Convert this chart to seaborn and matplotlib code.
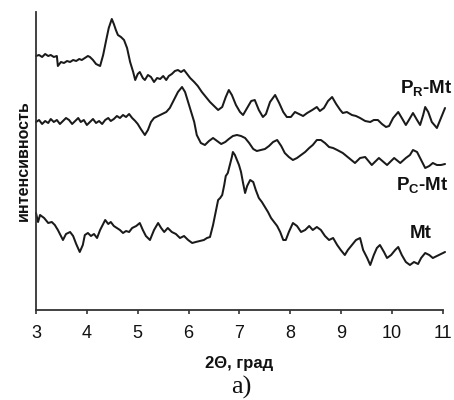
import matplotlib
matplotlib.use("Agg")
import matplotlib.pyplot as plt
import seaborn as sns
import pandas as pd

# --- data: 2-theta (deg) and intensity (arbitrary units, offset curves) ---
pr_x = [3.00, 3.06, 3.12, 3.18, 3.24, 3.29, 3.35, 3.41, 3.43, 3.49, 3.55, 3.61, 3.67, 3.73, 3.79, 3.85,
        3.90, 3.96, 4.02, 4.06, 4.12, 4.18, 4.26, 4.32, 4.38, 4.43, 4.49, 4.53, 4.57, 4.61, 4.67, 4.73,
        4.79, 4.85, 4.91, 4.95, 5.00, 5.04, 5.10, 5.14, 5.20, 5.26, 5.32, 5.38, 5.44, 5.50, 5.56, 5.61,
        5.67, 5.73, 5.79, 5.85, 5.91, 5.97, 6.03, 6.11, 6.18, 6.26, 6.34, 6.42, 6.50, 6.58, 6.66, 6.73,
        6.79, 6.85, 6.93, 7.01, 7.07, 7.15, 7.23, 7.30, 7.38, 7.46, 7.52, 7.60, 7.70, 7.78, 7.86, 7.93,
        8.01, 8.09, 8.17, 8.25, 8.33, 8.43, 8.52, 8.58, 8.66, 8.74, 8.82, 8.90, 8.98, 9.03, 9.11, 9.21,
        9.29, 9.37, 9.47, 9.57, 9.64, 9.72, 9.80, 9.88, 9.94, 10.02, 10.12, 10.19, 10.27, 10.33, 10.41,
        10.49, 10.55, 10.61, 10.65, 10.71, 10.78, 10.88, 10.96, 11.04]
pr_y = [254, 255, 253, 256, 254, 255, 253, 254, 244, 248, 247, 249, 248, 250, 249, 251,
        250, 252, 254, 253, 250, 246, 244, 255, 270, 282, 291, 286, 280, 275, 273, 270,
        262, 248, 238, 230, 236, 238, 232, 230, 235, 233, 228, 232, 231, 234, 230, 234,
        236, 239, 240, 238, 240, 236, 232, 228, 224, 218, 213, 208, 204, 200, 203, 213,
        220, 215, 205, 198, 195, 202, 209, 210, 200, 193, 196, 208, 215, 207, 198, 193,
        193, 198, 196, 194, 197, 200, 203, 199, 202, 209, 213, 206, 200, 197, 198, 195,
        194, 192, 189, 188, 190, 190, 186, 183, 184, 192, 198, 192, 185, 190, 197,
        190, 185, 195, 203, 198, 188, 182, 192, 202]

pc_x = [3.00, 3.06, 3.12, 3.18, 3.24, 3.29, 3.35, 3.41, 3.47, 3.53, 3.59, 3.65, 3.71, 3.77, 3.83, 3.88,
        3.94, 4.00, 4.06, 4.12, 4.18, 4.24, 4.30, 4.36, 4.42, 4.47, 4.53, 4.59, 4.65, 4.71, 4.77, 4.83,
        4.89, 4.95, 5.00, 5.06, 5.14, 5.20, 5.26, 5.32, 5.40, 5.48, 5.56, 5.63, 5.71, 5.79, 5.87, 5.93,
        5.99, 6.05, 6.11, 6.16, 6.24, 6.32, 6.40, 6.48, 6.56, 6.64, 6.72, 6.79, 6.87, 6.95, 7.03, 7.11,
        7.19, 7.27, 7.34, 7.42, 7.50, 7.58, 7.66, 7.74, 7.82, 7.89, 7.97, 8.05, 8.13, 8.21, 8.29, 8.37,
        8.44, 8.52, 8.60, 8.68, 8.76, 8.84, 8.92, 9.03, 9.15, 9.27, 9.37, 9.47, 9.60, 9.74, 9.90, 10.04,
        10.16, 10.27, 10.35, 10.41, 10.49, 10.57, 10.65, 10.73, 10.80, 10.88, 10.96, 11.04]
pc_y = [188, 190, 186, 189, 187, 191, 188, 190, 186, 189, 192, 190, 186, 189, 192, 188,
        190, 185, 188, 191, 187, 189, 186, 190, 192, 189, 191, 194, 192, 195, 193, 196,
        192, 189, 186, 181, 175, 180, 188, 192, 194, 196, 198, 202, 210, 218, 223, 218,
        208, 198, 188, 175, 167, 165, 169, 172, 169, 166, 168, 171, 174, 175, 174, 172,
        167, 161, 159, 160, 161, 164, 168, 170, 164, 157, 153, 150, 152, 155, 158, 162,
        165, 170, 170, 167, 163, 162, 160, 157, 152, 147, 152, 153, 145, 152, 145, 152,
        147, 152, 155, 160, 158, 150, 142, 144, 147, 145, 145, 146]

mt_x = [3.00, 3.04, 3.08, 3.16, 3.24, 3.31, 3.37, 3.43, 3.49, 3.53, 3.59, 3.67, 3.73, 3.79, 3.86, 3.92,
        3.96, 4.02, 4.08, 4.14, 4.20, 4.26, 4.32, 4.36, 4.42, 4.47, 4.53, 4.59, 4.65, 4.71, 4.77, 4.83,
        4.89, 4.97, 5.04, 5.10, 5.16, 5.24, 5.32, 5.40, 5.46, 5.52, 5.59, 5.67, 5.75, 5.83, 5.91, 5.99,
        6.07, 6.14, 6.22, 6.30, 6.36, 6.42, 6.48, 6.54, 6.58, 6.62, 6.66, 6.70, 6.73, 6.77, 6.81, 6.85,
        6.87, 6.91, 6.95, 6.99, 7.03, 7.07, 7.11, 7.15, 7.21, 7.27, 7.32, 7.38, 7.44, 7.50, 7.56, 7.62,
        7.68, 7.74, 7.80, 7.86, 7.91, 7.97, 8.05, 8.13, 8.21, 8.29, 8.37, 8.44, 8.52, 8.60, 8.68, 8.76,
        8.84, 8.92, 8.99, 9.07, 9.13, 9.21, 9.29, 9.37, 9.43, 9.51, 9.57, 9.64, 9.70, 9.76, 9.84, 9.90,
        9.98, 10.06, 10.12, 10.19, 10.27, 10.35, 10.43, 10.51, 10.57, 10.65, 10.73, 10.80, 10.88, 10.96,
        11.04]
mt_y = [97, 88, 95, 92, 87, 88, 85, 80, 74, 70, 76, 78, 74, 66, 58, 65,
        75, 77, 74, 76, 72, 80, 86, 90, 86, 88, 84, 82, 80, 77, 79, 78,
        82, 84, 87, 80, 74, 70, 80, 87, 82, 78, 82, 78, 76, 72, 74, 70,
        67, 68, 69, 70, 72, 73, 85, 100, 110, 112, 115, 125, 134, 137, 145, 153,
        158, 155, 150, 145, 138, 127, 117, 124, 130, 128, 120, 112, 108, 103, 98, 92,
        88, 84, 78, 70, 70, 78, 87, 84, 78, 80, 84, 80, 83, 80, 74, 70,
        72, 65, 60, 55, 60, 65, 70, 72, 60, 52, 45, 55, 62, 65, 58, 52,
        55, 60, 63, 55, 48, 45, 48, 46, 52, 57, 55, 52, 54, 56,
        58]

series_names = ["PR-Mt", "PC-Mt", "Mt"]
x_ticks = [3, 4, 5, 6, 7, 8, 9, 10, 11]

sns.set_theme(style="white")
plt.rcParams["font.family"] = ["Liberation Sans", "DejaVu Sans"]
plt.rcParams["mathtext.fontset"] = "custom"
plt.rcParams["mathtext.bf"] = "Liberation Sans:bold"
plt.rcParams["mathtext.rm"] = "Liberation Sans"

fig = plt.figure(figsize=(4.54, 4.0), dpi=100)
ax = fig.add_axes([36 / 454, 1 - 310 / 400, (443 - 36) / 454, (310 - 12) / 400])

line_color = "#1a1a1a"
for xs, ys in [(pr_x, pr_y), (pc_x, pc_y), (mt_x, mt_y)]:
    df = pd.DataFrame({"x": xs, "y": ys})
    sns.lineplot(data=df, x="x", y="y", ax=ax, color=line_color, lw=1.45,
                 sort=False, estimator=None, clip_on=False,
                 solid_joinstyle="round", solid_capstyle="round")

ax.set_xlim(3, 11)
ax.set_ylim(0, 298)
ax.set_xticks(x_ticks)
ax.set_xticklabels([str(t) for t in x_ticks])
ax.set_yticks([])
for s in ["top", "right"]:
    ax.spines[s].set_visible(False)
for s in ["left", "bottom"]:
    ax.spines[s].set_color("#333333")
    ax.spines[s].set_linewidth(1.3)
ax.tick_params(axis="x", direction="out", length=3, width=1.2, color="#333333",
               labelsize=13, pad=8, labelcolor="#111111", bottom=True)

ax.set_xlabel("2Θ, град", fontsize=12, fontweight="bold", labelpad=10, color="#111111")
ax.set_ylabel("интенсивность", fontsize=11.5, fontweight="bold", labelpad=4, color="#111111")

lab_kw = dict(ha="right", va="center", fontsize=13.5, fontweight="bold", color="#111111", clip_on=False)
ax.text(11.18, 222, r"P$\mathbf{_R}$-Mt", **lab_kw)
ax.text(11.10, 125, r"P$\mathbf{_C}$-Mt", **lab_kw)
ax.text(10.78, 76, "Mt", **lab_kw)

fig.text(241 / 454, 1 - 387 / 400, "а)", ha="center", va="center", fontsize=19,
         family=["Liberation Serif", "DejaVu Serif"], color="#111111")

fig.savefig("out.png", dpi=100, facecolor="white")
